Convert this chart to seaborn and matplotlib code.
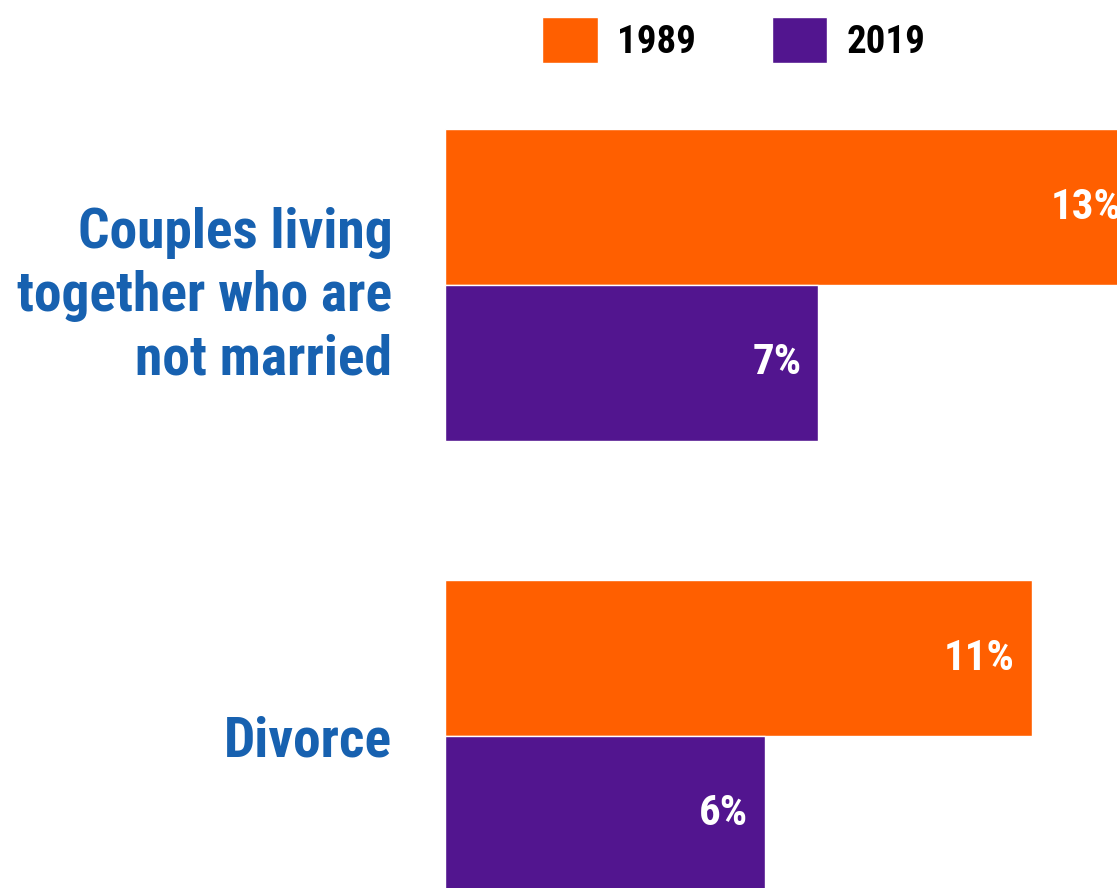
import pandas as pd
import matplotlib.pyplot as plt
import seaborn as sns

categories = ['Couples living\ntogether who are\nnot married', 'Divorce']
years = ['1989', '2019']
values_1989 = [13, 11]
values_2019 = [7, 6]
colors = ['#FF5F00', '#52158F']

df = pd.DataFrame({
    'category': categories * 2,
    'year': [years[0]] * 2 + [years[1]] * 2,
    'value': values_1989 + values_2019,
})

sns.set_style('white')
plt.rcParams['font.family'] = ['Roboto Condensed', 'Liberation Sans Narrow',
                               'DejaVu Sans Condensed', 'DejaVu Sans']
plt.rcParams['font.stretch'] = 'condensed'

fig = plt.figure(figsize=(11.17, 8.88), dpi=100)
ax = fig.add_axes([445 / 1117, 0, 672 / 1117, 1])
sns.barplot(data=df, y='category', x='value', hue='year', orient='h',
            palette=colors, width=0.69, saturation=1, ax=ax)

ax.set_xlim(0, 12.6)
ax.set_ylim(1.337, -0.632)
sns.despine(ax=ax, left=True, bottom=True)
ax.set_xticks([])
ax.set_xlabel('')
ax.set_ylabel('')
ax.tick_params(axis='y', length=0, pad=38)
for lbl in ax.get_yticklabels():
    lbl.set_color('#1761B0')
    lbl.set_fontsize(40)
    lbl.set_fontweight('bold')
    lbl.set_linespacing(1.27)

# value labels inside the bar ends
for bar in ax.patches:
    w = bar.get_width()
    if w == 0:
        continue
    ax.annotate(f'{w:.0f}%', (w, bar.get_y() + bar.get_height() / 2),
                xytext=(-12, 0), textcoords='offset points',
                ha='right', va='center', color='white',
                fontsize=31, fontweight='bold', annotation_clip=False)

handles, labels = ax.get_legend_handles_labels()
ax.legend_.remove()
fig.legend(handles, labels, loc='center', bbox_to_anchor=(0.657, 0.955),
           ncol=2, frameon=False, borderpad=0,
           prop={'weight': 'bold', 'size': 28}, labelcolor='black',
           handlelength=1.43, handleheight=1.43, handletextpad=0.5,
           columnspacing=1.95)

fig.savefig('out.png', dpi=100)
